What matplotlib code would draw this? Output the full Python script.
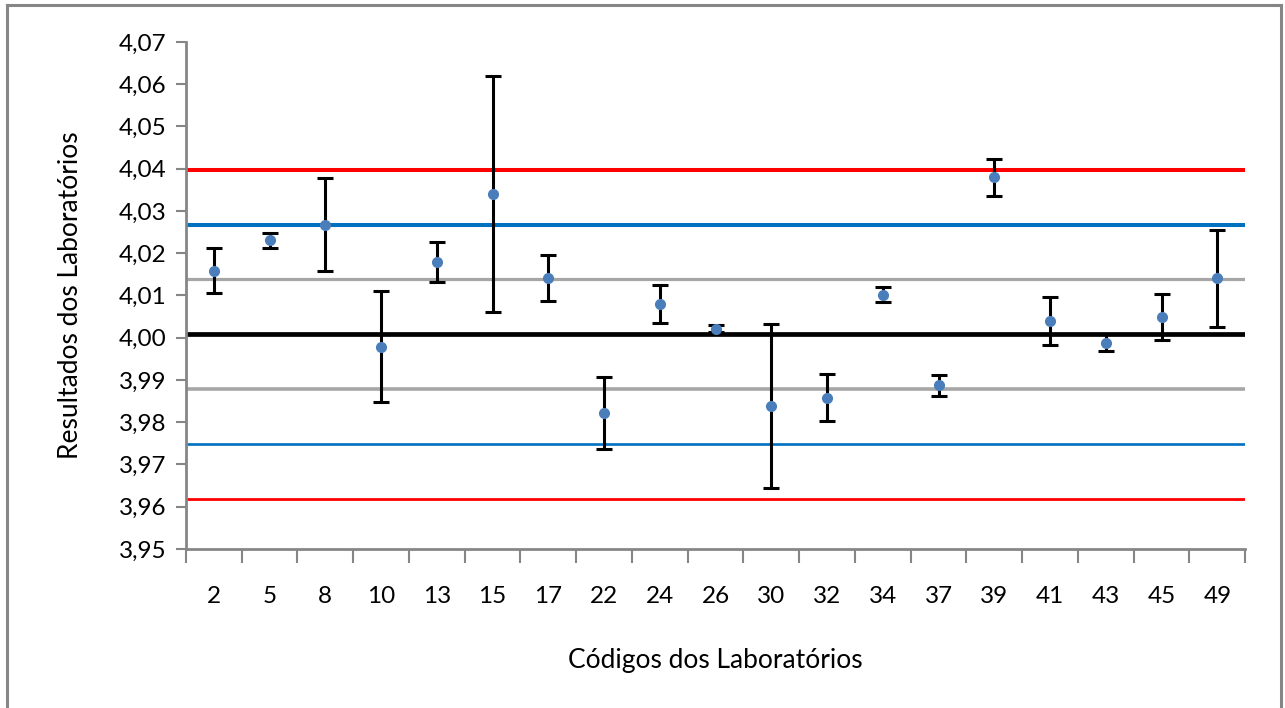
import matplotlib.pyplot as plt
from matplotlib.lines import Line2D
from matplotlib.ticker import FuncFormatter, MultipleLocator

plt.rcParams['font.family'] = ['Lato', 'DejaVu Sans']

# Códigos dos laboratórios e resultados (média e incerteza)
labs = ['2', '5', '8', '10', '13', '15', '17', '22', '24', '26',
        '30', '32', '34', '37', '39', '41', '43', '45', '49']
results = [4.0159, 4.0231, 4.0267, 3.9979, 4.0179, 4.0340, 4.0141, 3.9821,
           4.0080, 4.0021, 3.9839, 3.9858, 4.0102, 3.9887, 4.0380, 4.0040,
           3.9988, 4.0049, 4.0141]
uncert = [0.0053, 0.0018, 0.0110, 0.0132, 0.0047, 0.0280, 0.0055, 0.0085,
          0.0044, 0.0008, 0.0194, 0.0055, 0.0017, 0.0025, 0.0044, 0.0057,
          0.0020, 0.0055, 0.0115]

# valor de consenso e limites (1, 2 e 3 desvios)
ref_value = 4.0008
lim_1s = [3.9878, 4.0138]
lim_2s = [3.9748, 4.0268]
lim_3s = [3.9619, 4.0397]

fig = plt.figure(figsize=(12.85, 7.08), dpi=100)
ax = fig.add_axes([0.1447, 0.2246, 0.8243, 0.7161])

x = list(range(len(labs)))

ax.axhline(lim_3s[1], color='#FF0000', lw=2.9, zorder=2)
ax.axhline(lim_3s[0], color='#FF0000', lw=2.0, zorder=2)
ax.axhline(lim_2s[1], color='#0070C0', lw=2.9, zorder=2)
ax.axhline(lim_2s[0], color='#0070C0', lw=1.9, zorder=2)
ax.axhline(lim_1s[1], color='#A6A6A6', lw=2.3, zorder=2)
ax.axhline(lim_1s[0], color='#A6A6A6', lw=2.6, zorder=2)
ax.axhline(ref_value, color='black', lw=3.4, zorder=2)

ax.errorbar(x, results, yerr=uncert, fmt='none', ecolor='black',
            elinewidth=2.2, capsize=6, capthick=2.2, zorder=3)
ax.plot(x, results, 'o', color='#4A7EBB', markersize=7, zorder=4)

ax.set_xlim(-0.5, len(labs) - 0.5)
ax.set_ylim(3.95, 4.07)
ax.yaxis.set_major_locator(MultipleLocator(0.01))
ax.yaxis.set_major_formatter(FuncFormatter(lambda v, p: f'{v:.2f}'.replace('.', ',')))

# marcas do eixo x entre as categorias, rótulos no centro
ax.set_xticks([i - 0.5 for i in range(len(labs) + 1)])
ax.set_xticklabels([])
ax.set_xticks(x, minor=True)
ax.set_xticklabels(labs, minor=True)
ax.tick_params(axis='x', which='major', length=10, width=1.5, color='#868686')
ax.tick_params(axis='x', which='minor', length=0, pad=27, labelsize=17.5)
ax.tick_params(axis='y', length=7, width=1.5, color='#868686', labelsize=17.5, pad=7)

for side in ['top', 'right']:
    ax.spines[side].set_visible(False)
for side in ['left', 'bottom']:
    ax.spines[side].set_color('#868686')
    ax.spines[side].set_linewidth(2)

ax.set_xlabel('Códigos dos Laboratórios', fontsize=19, labelpad=29)
ax.set_ylabel('Resultados dos Laboratórios', fontsize=19, labelpad=26)

# moldura da área do gráfico
frame = dict(color='#868686', lw=2.2, transform=fig.transFigure)
fig.add_artist(Line2D([0.0058, 0.0058], [0.0, 0.9935], **frame))
fig.add_artist(Line2D([0.0058, 0.9965], [0.9935, 0.9935], **frame))
fig.add_artist(Line2D([0.9965, 0.9965], [0.0, 0.9935], **frame))

fig.savefig('out.png', dpi=100)
